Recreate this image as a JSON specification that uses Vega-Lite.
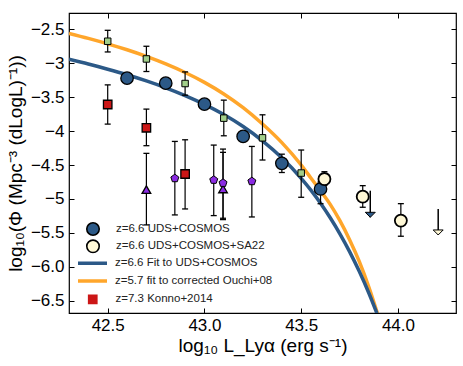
{
  "$schema": "https://vega.github.io/schema/vega-lite/v6.json",
  "width": 387,
  "height": 300,
  "autosize": {"type": "none"},
  "padding": {"left": 69, "top": 13, "right": 7, "bottom": 53},
  "background": "white",
  "config": {
    "view": {"stroke": "black", "strokeWidth": 1.2},
    "font": "Liberation Sans",
    "axis": {"labelFont": "Liberation Sans", "titleFont": "Liberation Sans", "labelColor": "black", "titleColor": "black", "tickColor": "black", "tickWidth": 1, "titleFontWeight": "normal", "grid": false, "domain": false, "labelOverlap": false, "labelFlush": false},
    "legend": {"labelFont": "Liberation Sans", "labelFontSize": 11.5, "labelColor": "#222222", "labelLimit": 300, "clipHeight": 15, "symbolOpacity": 1, "padding": 0}
  },
  "datasets": {
    "curves": [
      {"series": "z=5.7 fit to corrected Ouchi+08", "logL": 42.30, "logPhi": -2.560},
      {"series": "z=5.7 fit to corrected Ouchi+08", "logL": 42.40, "logPhi": -2.634},
      {"series": "z=5.7 fit to corrected Ouchi+08", "logL": 42.50, "logPhi": -2.714},
      {"series": "z=5.7 fit to corrected Ouchi+08", "logL": 42.60, "logPhi": -2.802},
      {"series": "z=5.7 fit to corrected Ouchi+08", "logL": 42.70, "logPhi": -2.900},
      {"series": "z=5.7 fit to corrected Ouchi+08", "logL": 42.80, "logPhi": -3.011},
      {"series": "z=5.7 fit to corrected Ouchi+08", "logL": 42.90, "logPhi": -3.137},
      {"series": "z=5.7 fit to corrected Ouchi+08", "logL": 43.00, "logPhi": -3.282},
      {"series": "z=5.7 fit to corrected Ouchi+08", "logL": 43.10, "logPhi": -3.453},
      {"series": "z=5.7 fit to corrected Ouchi+08", "logL": 43.20, "logPhi": -3.655},
      {"series": "z=5.7 fit to corrected Ouchi+08", "logL": 43.30, "logPhi": -3.896},
      {"series": "z=5.7 fit to corrected Ouchi+08", "logL": 43.40, "logPhi": -4.170},
      {"series": "z=5.7 fit to corrected Ouchi+08", "logL": 43.50, "logPhi": -4.500},
      {"series": "z=5.7 fit to corrected Ouchi+08", "logL": 43.55, "logPhi": -4.690},
      {"series": "z=5.7 fit to corrected Ouchi+08", "logL": 43.60, "logPhi": -4.880},
      {"series": "z=5.7 fit to corrected Ouchi+08", "logL": 43.65, "logPhi": -5.080},
      {"series": "z=5.7 fit to corrected Ouchi+08", "logL": 43.70, "logPhi": -5.320},
      {"series": "z=5.7 fit to corrected Ouchi+08", "logL": 43.75, "logPhi": -5.600},
      {"series": "z=5.7 fit to corrected Ouchi+08", "logL": 43.80, "logPhi": -5.920},
      {"series": "z=5.7 fit to corrected Ouchi+08", "logL": 43.85, "logPhi": -6.300},
      {"series": "z=5.7 fit to corrected Ouchi+08", "logL": 43.90, "logPhi": -6.740},
      {"series": "z=6.6 Fit to UDS+COSMOS", "logL": 42.30, "logPhi": -2.942},
      {"series": "z=6.6 Fit to UDS+COSMOS", "logL": 42.40, "logPhi": -3.012},
      {"series": "z=6.6 Fit to UDS+COSMOS", "logL": 42.50, "logPhi": -3.088},
      {"series": "z=6.6 Fit to UDS+COSMOS", "logL": 42.60, "logPhi": -3.170},
      {"series": "z=6.6 Fit to UDS+COSMOS", "logL": 42.70, "logPhi": -3.261},
      {"series": "z=6.6 Fit to UDS+COSMOS", "logL": 42.80, "logPhi": -3.362},
      {"series": "z=6.6 Fit to UDS+COSMOS", "logL": 42.90, "logPhi": -3.476},
      {"series": "z=6.6 Fit to UDS+COSMOS", "logL": 43.00, "logPhi": -3.606},
      {"series": "z=6.6 Fit to UDS+COSMOS", "logL": 43.10, "logPhi": -3.757},
      {"series": "z=6.6 Fit to UDS+COSMOS", "logL": 43.20, "logPhi": -3.933},
      {"series": "z=6.6 Fit to UDS+COSMOS", "logL": 43.30, "logPhi": -4.143},
      {"series": "z=6.6 Fit to UDS+COSMOS", "logL": 43.40, "logPhi": -4.393},
      {"series": "z=6.6 Fit to UDS+COSMOS", "logL": 43.50, "logPhi": -4.696},
      {"series": "z=6.6 Fit to UDS+COSMOS", "logL": 43.55, "logPhi": -4.870},
      {"series": "z=6.6 Fit to UDS+COSMOS", "logL": 43.60, "logPhi": -5.063},
      {"series": "z=6.6 Fit to UDS+COSMOS", "logL": 43.65, "logPhi": -5.277},
      {"series": "z=6.6 Fit to UDS+COSMOS", "logL": 43.70, "logPhi": -5.513},
      {"series": "z=6.6 Fit to UDS+COSMOS", "logL": 43.75, "logPhi": -5.775},
      {"series": "z=6.6 Fit to UDS+COSMOS", "logL": 43.80, "logPhi": -6.066},
      {"series": "z=6.6 Fit to UDS+COSMOS", "logL": 43.85, "logPhi": -6.389},
      {"series": "z=6.6 Fit to UDS+COSMOS", "logL": 43.90, "logPhi": -6.749}
    ],
    "points": [
      {"series": "z=6.6 UDS+COSMOS", "logL": 42.6, "logPhi": -3.22},
      {"series": "z=6.6 UDS+COSMOS", "logL": 42.8, "logPhi": -3.294},
      {"series": "z=6.6 UDS+COSMOS", "logL": 43.0, "logPhi": -3.603},
      {"series": "z=6.6 UDS+COSMOS", "logL": 43.2, "logPhi": -4.078},
      {"series": "z=6.6 UDS+COSMOS", "logL": 43.4, "logPhi": -4.475, "lo": -4.61, "hi": -4.34},
      {"series": "z=6.6 UDS+COSMOS", "logL": 43.6, "logPhi": -4.853, "lo": -5.07, "hi": -4.75},
      {"series": "z=6.6 UDS+COSMOS+SA22", "logL": 43.62, "logPhi": -4.706, "lo": -4.80, "hi": -4.598},
      {"series": "z=6.6 UDS+COSMOS+SA22", "logL": 43.818, "logPhi": -4.966, "lo": -5.122, "hi": -4.804},
      {"series": "z=6.6 UDS+COSMOS+SA22", "logL": 44.015, "logPhi": -5.319, "lo": -5.549, "hi": -5.069},
      {"series": "z=5.7 corrected Ouchi+08", "logL": 42.5, "logPhi": -2.676, "lo": -2.834, "hi": -2.515},
      {"series": "z=5.7 corrected Ouchi+08", "logL": 42.7, "logPhi": -2.937, "lo": -3.122, "hi": -2.75},
      {"series": "z=5.7 corrected Ouchi+08", "logL": 42.9, "logPhi": -3.299, "lo": -3.471, "hi": -3.128},
      {"series": "z=5.7 corrected Ouchi+08", "logL": 43.1, "logPhi": -3.809, "lo": -4.069, "hi": -3.544},
      {"series": "z=5.7 corrected Ouchi+08", "logL": 43.3, "logPhi": -4.099, "lo": -4.426, "hi": -3.76},
      {"series": "z=5.7 corrected Ouchi+08", "logL": 43.5, "logPhi": -4.618, "lo": -4.975, "hi": -4.279},
      {"series": "z=7.3 Konno+2014", "logL": 42.5, "logPhi": -3.608, "lo": -3.897, "hi": -3.319},
      {"series": "z=7.3 Konno+2014", "logL": 42.7, "logPhi": -3.951, "lo": -4.215, "hi": -3.676},
      {"series": "z=7.3 Konno+2014", "logL": 42.9, "logPhi": -4.632, "lo": -5.147, "hi": -4.128},
      {"series": "z~7 triangles", "logL": 42.7, "logPhi": -4.863, "lo": -5.382, "hi": -4.328},
      {"series": "z~7 triangles", "logL": 43.096, "logPhi": -4.853, "lo": -5.284, "hi": -4.265},
      {"series": "z~7 pentagons", "logL": 42.847, "logPhi": -4.696, "lo": -5.235, "hi": -4.152},
      {"series": "z~7 pentagons", "logL": 43.048, "logPhi": -4.72, "lo": -5.245, "hi": -4.206},
      {"series": "z~7 pentagons", "logL": 43.096, "logPhi": -4.765, "lo": -5.304, "hi": -4.313},
      {"series": "z~7 pentagons", "logL": 43.245, "logPhi": -4.74, "lo": -5.265, "hi": -4.226}
    ],
    "limits": [
      {"series": "z=6.6 UDS+COSMOS", "logL": 43.857, "top": -4.878, "tip": -5.27},
      {"series": "z=6.6 UDS+COSMOS+SA22", "logL": 44.208, "top": -5.147, "tip": -5.53}
    ]
  },
  "layer": [
    {
      "data": {"name": "curves"},
      "transform": [{"filter": "datum.series === 'z=5.7 fit to corrected Ouchi+08'"}],
      "mark": {"type": "line", "strokeWidth": 3.5, "clip": true, "interpolate": "monotone"},
      "encoding": {
        "x": {"field": "logL", "type": "quantitative", "scale": {"domain": [42.3, 44.3], "nice": false, "zero": false},
              "axis": {"orient": "bottom", "values": [42.5, 43, 43.5, 44], "format": ".1f", "title": "log₁₀ L_Lyα (erg s⁻¹)", "tickSize": -5, "labelPadding": 9, "titlePadding": 3, "labelFontSize": 17, "titleFontSize": 19}},
        "y": {"field": "logPhi", "type": "quantitative", "scale": {"domain": [-6.68, -2.26], "nice": false, "zero": false},
              "axis": {"orient": "left", "values": [-2.5, -3, -3.5, -4, -4.5, -5, -5.5, -6, -6.5], "labelExpr": "replace(datum.value == -6 ? '-6.0' : '' + datum.value, '-', '−')", "title": "log₁₀(Φ (Mpc⁻³ (dLogL)⁻¹))", "tickSize": -5, "labelPadding": 10, "titlePadding": 5, "labelFontSize": 17, "titleFontSize": 19}},
        "stroke": {"field": "series", "type": "nominal",
          "scale": {"domain": ["z=6.6 Fit to UDS+COSMOS", "z=5.7 fit to corrected Ouchi+08"], "range": ["#2C5987", "#FFA62B"]},
          "legend": {"orient": "none", "legendX": 7, "legendY": 242.8, "title": null, "symbolType": "stroke", "symbolSize": 841, "symbolStrokeWidth": 3.5, "rowPadding": 2.7, "labelOffset": 6}
        }
      }
    },
    {
      "data": {"name": "curves"},
      "transform": [{"filter": "datum.series === 'z=6.6 Fit to UDS+COSMOS'"}],
      "mark": {"type": "line", "strokeWidth": 3.5, "clip": true, "interpolate": "monotone"},
      "encoding": {
        "x": {"field": "logL", "type": "quantitative", "scale": {"domain": [42.3, 44.3], "nice": false, "zero": false},
              "axis": {"orient": "top", "values": [42.5, 43, 43.5, 44], "labels": false, "title": null, "tickSize": -5}},
        "y": {"field": "logPhi", "type": "quantitative", "scale": {"domain": [-6.68, -2.26], "nice": false, "zero": false},
              "axis": {"orient": "right", "values": [-2.5, -3, -3.5, -4, -4.5, -5, -5.5, -6, -6.5], "labels": false, "title": null, "tickSize": -5}},
        "stroke": {"field": "series", "type": "nominal"}
      }
    },
    {
      "data": {"name": "points"},
      "transform": [{"filter": "isValid(datum.lo)"}],
      "mark": {"type": "rule", "color": "black", "strokeWidth": 1.2},
      "encoding": {
        "x": {"field": "logL", "type": "quantitative", "axis": null, "scale": {"domain": [42.3, 44.3], "nice": false, "zero": false}},
        "y": {"field": "lo", "type": "quantitative", "axis": null, "scale": {"domain": [-6.68, -2.26], "nice": false, "zero": false}},
        "y2": {"field": "hi"}
      }
    },
    {
      "data": {"name": "points"},
      "transform": [{"filter": "isValid(datum.lo)"}],
      "mark": {"type": "tick", "orient": "horizontal", "size": 6, "thickness": 1.3, "color": "black", "opacity": 1},
      "encoding": {
        "x": {"field": "logL", "type": "quantitative", "axis": null, "scale": {"domain": [42.3, 44.3], "nice": false, "zero": false}},
        "y": {"field": "lo", "type": "quantitative", "axis": null, "scale": {"domain": [-6.68, -2.26], "nice": false, "zero": false}}
      }
    },
    {
      "data": {"name": "points"},
      "transform": [{"filter": "isValid(datum.hi)"}],
      "mark": {"type": "tick", "orient": "horizontal", "size": 6, "thickness": 1.3, "color": "black", "opacity": 1},
      "encoding": {
        "x": {"field": "logL", "type": "quantitative", "axis": null, "scale": {"domain": [42.3, 44.3], "nice": false, "zero": false}},
        "y": {"field": "hi", "type": "quantitative", "axis": null, "scale": {"domain": [-6.68, -2.26], "nice": false, "zero": false}}
      }
    },
    {
      "data": {"name": "limits"},
      "mark": {"type": "rule", "color": "black", "strokeWidth": 1.5},
      "encoding": {
        "x": {"field": "logL", "type": "quantitative", "axis": null, "scale": {"domain": [42.3, 44.3], "nice": false, "zero": false}},
        "y": {"field": "top", "type": "quantitative", "axis": null, "scale": {"domain": [-6.68, -2.26], "nice": false, "zero": false}},
        "y2": {"field": "tip"}
      }
    },
    {
      "data": {"name": "points"},
      "transform": [{"filter": "datum.series === 'z=5.7 corrected Ouchi+08'"}],
      "mark": {"type": "point", "shape": "square", "filled": true, "fill": "#A2CF8A", "stroke": "black", "strokeWidth": 1, "size": 42, "opacity": 1},
      "encoding": {
        "x": {"field": "logL", "type": "quantitative", "axis": null, "scale": {"domain": [42.3, 44.3], "nice": false, "zero": false}},
        "y": {"field": "logPhi", "type": "quantitative", "axis": null, "scale": {"domain": [-6.68, -2.26], "nice": false, "zero": false}}
      }
    },
    {
      "data": {"name": "points"},
      "transform": [{"filter": "datum.series === 'z=7.3 Konno+2014'"}],
      "mark": {"type": "point", "filled": true, "fill": "#CC1616", "stroke": "black", "strokeWidth": 1.3, "size": 72, "opacity": 1},
      "encoding": {
        "x": {"field": "logL", "type": "quantitative", "axis": null, "scale": {"domain": [42.3, 44.3], "nice": false, "zero": false}},
        "y": {"field": "logPhi", "type": "quantitative", "axis": null, "scale": {"domain": [-6.68, -2.26], "nice": false, "zero": false}},
        "shape": {"field": "series", "type": "nominal",
          "scale": {"domain": ["z=7.3 Konno+2014"], "range": ["square"]},
          "legend": {"orient": "none", "legendX": 17.75, "legendY": 278.8, "title": null, "symbolSize": 95, "symbolFillColor": "#CC1616", "symbolStrokeColor": "black", "symbolStrokeWidth": 1.5, "labelOffset": 16.75}
        }
      }
    },
    {
      "data": {"name": "points"},
      "transform": [{"filter": "datum.series === 'z~7 triangles'"}],
      "mark": {"type": "point", "shape": "triangle-up", "filled": true, "fill": "#8A2BE2", "stroke": "black", "strokeWidth": 1.3, "size": 75, "opacity": 1},
      "encoding": {
        "x": {"field": "logL", "type": "quantitative", "axis": null, "scale": {"domain": [42.3, 44.3], "nice": false, "zero": false}},
        "y": {"field": "logPhi", "type": "quantitative", "axis": null, "scale": {"domain": [-6.68, -2.26], "nice": false, "zero": false}}
      }
    },
    {
      "data": {"name": "points"},
      "transform": [{"filter": "datum.series === 'z~7 pentagons'"}],
      "mark": {"type": "point", "shape": "M0,-1L0.951,-0.309L0.588,0.809L-0.588,0.809L-0.951,-0.309Z", "filled": true, "fill": "#8A2BE2", "stroke": "black", "strokeWidth": 1, "size": 70, "opacity": 1},
      "encoding": {
        "x": {"field": "logL", "type": "quantitative", "axis": null, "scale": {"domain": [42.3, 44.3], "nice": false, "zero": false}},
        "y": {"field": "logPhi", "type": "quantitative", "axis": null, "scale": {"domain": [-6.68, -2.26], "nice": false, "zero": false}}
      }
    },
    {
      "data": {"name": "points"},
      "transform": [{"filter": "datum.series === 'z=6.6 UDS+COSMOS'"}],
      "mark": {"type": "point", "shape": "circle", "filled": true, "stroke": "black", "strokeWidth": 1.3, "size": 155, "opacity": 1},
      "encoding": {
        "x": {"field": "logL", "type": "quantitative", "axis": null, "scale": {"domain": [42.3, 44.3], "nice": false, "zero": false}},
        "y": {"field": "logPhi", "type": "quantitative", "axis": null, "scale": {"domain": [-6.68, -2.26], "nice": false, "zero": false}},
        "fill": {"field": "series", "type": "nominal",
          "scale": {"domain": ["z=6.6 UDS+COSMOS", "z=6.6 UDS+COSMOS+SA22"], "range": ["#2C5987", "#FFF8D6"]},
          "legend": {"orient": "none", "legendX": 16.5, "legendY": 208.5, "title": null, "symbolType": "circle", "symbolSize": 155, "symbolStrokeColor": "black", "symbolStrokeWidth": 1.6, "rowPadding": 2.3, "labelOffset": 15.5}
        }
      }
    },
    {
      "data": {"name": "points"},
      "transform": [{"filter": "datum.series === 'z=6.6 UDS+COSMOS+SA22'"}],
      "mark": {"type": "point", "shape": "circle", "filled": true, "stroke": "black", "strokeWidth": 1.8, "size": 145, "opacity": 1},
      "encoding": {
        "x": {"field": "logL", "type": "quantitative", "axis": null, "scale": {"domain": [42.3, 44.3], "nice": false, "zero": false}},
        "y": {"field": "logPhi", "type": "quantitative", "axis": null, "scale": {"domain": [-6.68, -2.26], "nice": false, "zero": false}},
        "fill": {"field": "series", "type": "nominal"}
      }
    },
    {
      "data": {"name": "limits"},
      "transform": [{"filter": "datum.series === 'z=6.6 UDS+COSMOS'"}],
      "mark": {"type": "point", "shape": "M-1,-1L1,-1L0,0Z", "filled": true, "fill": "#2C5987", "stroke": "black", "strokeWidth": 1, "size": 100, "opacity": 1},
      "encoding": {
        "x": {"field": "logL", "type": "quantitative", "axis": null, "scale": {"domain": [42.3, 44.3], "nice": false, "zero": false}},
        "y": {"field": "tip", "type": "quantitative", "axis": null, "scale": {"domain": [-6.68, -2.26], "nice": false, "zero": false}}
      }
    },
    {
      "data": {"name": "limits"},
      "transform": [{"filter": "datum.series === 'z=6.6 UDS+COSMOS+SA22'"}],
      "mark": {"type": "point", "shape": "M-1,-1L1,-1L0,0Z", "filled": true, "fill": "#FFF8D6", "stroke": "black", "strokeWidth": 1, "size": 100, "opacity": 1},
      "encoding": {
        "x": {"field": "logL", "type": "quantitative", "axis": null, "scale": {"domain": [42.3, 44.3], "nice": false, "zero": false}},
        "y": {"field": "tip", "type": "quantitative", "axis": null, "scale": {"domain": [-6.68, -2.26], "nice": false, "zero": false}}
      }
    }
  ],
  "resolve": {"axis": {"x": "independent", "y": "independent"}}
}
